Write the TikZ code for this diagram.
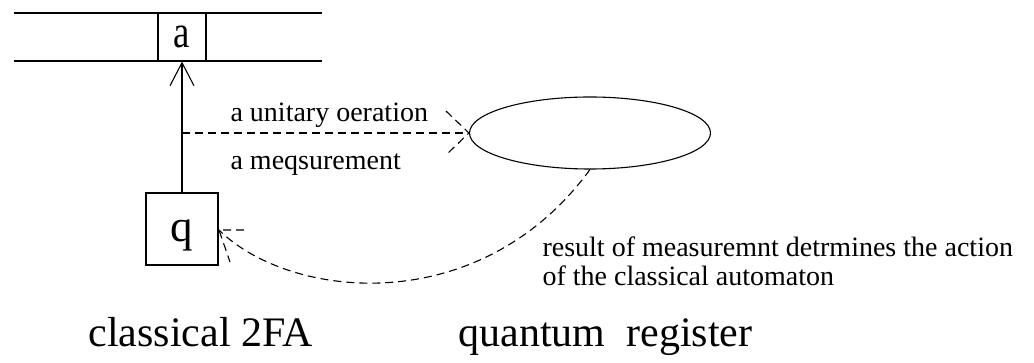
\documentclass[tikz,border=0pt]{standalone}
\usepackage{fontspec}
\setmainfont{Liberation Serif}
\usetikzlibrary{arrows.meta, positioning, calc, shapes.geometric}

\begin{document}
\begin{tikzpicture}[x=1pt, y=-1pt,
    line width=1.1pt,
    cellbox/.style={draw, minimum width=48pt, minimum height=48pt, inner sep=0pt},
    statebox/.style={draw, minimum width=72pt, minimum height=72pt, inner sep=0pt,
                     text height=26pt, text depth=0pt},
    reg/.style={draw, ellipse, minimum width=241pt, minimum height=72pt},
    big/.style={font=\fontsize{42}{50}\selectfont, inner sep=0pt},
    lbl/.style={font=\fontsize{28}{34}\selectfont, inner sep=0pt, anchor=base west},
    dashline/.style={dash pattern=on 8pt off 5pt},
    head/.style={-{Straight Barb[length=23pt, width=24pt, line width=1.1pt]}}
  ]
  \useasboundingbox (0,0) rectangle (1034,363);

  % the tape
  \coordinate (tl) at (14,13);
  \coordinate (tr) at (322,13);
  \coordinate (bl) at (14,61);
  \coordinate (br) at (322,61);
  \draw (tl) -- (tr);
  \draw (bl) -- (br);
  \node[cellbox] (cell) at (182,37) {\fontsize{46}{54}\selectfont\scalebox{0.8}[1]{a}};

  % the classical head and the register
  \node[statebox] (state) at (182,229) {\fontsize{45}{54}\selectfont q};
  \node[reg] (qreg) at (590,133) {};

  \draw[head] (state.north) -- (cell.south);
  \coordinate (fork) at (cell.south |- qreg.west);
  \draw[dashline] (fork) -- (qreg.west);
  \draw[dashline] ($(qreg.west)+(-23,-22)$) -- (qreg.west) -- ($(qreg.west)+(-23,22)$);

  \node[lbl] (unit) at (230,122) {a unitary oeration};
  \node[lbl] (meas) at (230,170) {a meqsurement};

  % feedback from the measurement
  \coordinate (back) at (219,230);
  \draw[dashline] (qreg.south) .. controls (480,320) and (290,300) .. (back);
  \draw[dashline] ($(back)+(25,0)$) -- (back) -- ($(back)+(11,32)$);

  \node[lbl] (res1) at (542,257) {result of measuremnt detrmines the action};
  \node[lbl] (res2) at (542,286) {of the classical automaton};

  \node[big, anchor=base west] (cls) at (88,347) {classical 2FA};
  \node[big, anchor=base west] (qnt) at (458,347) {quantum\ \ register};
\end{tikzpicture}
\end{document}
